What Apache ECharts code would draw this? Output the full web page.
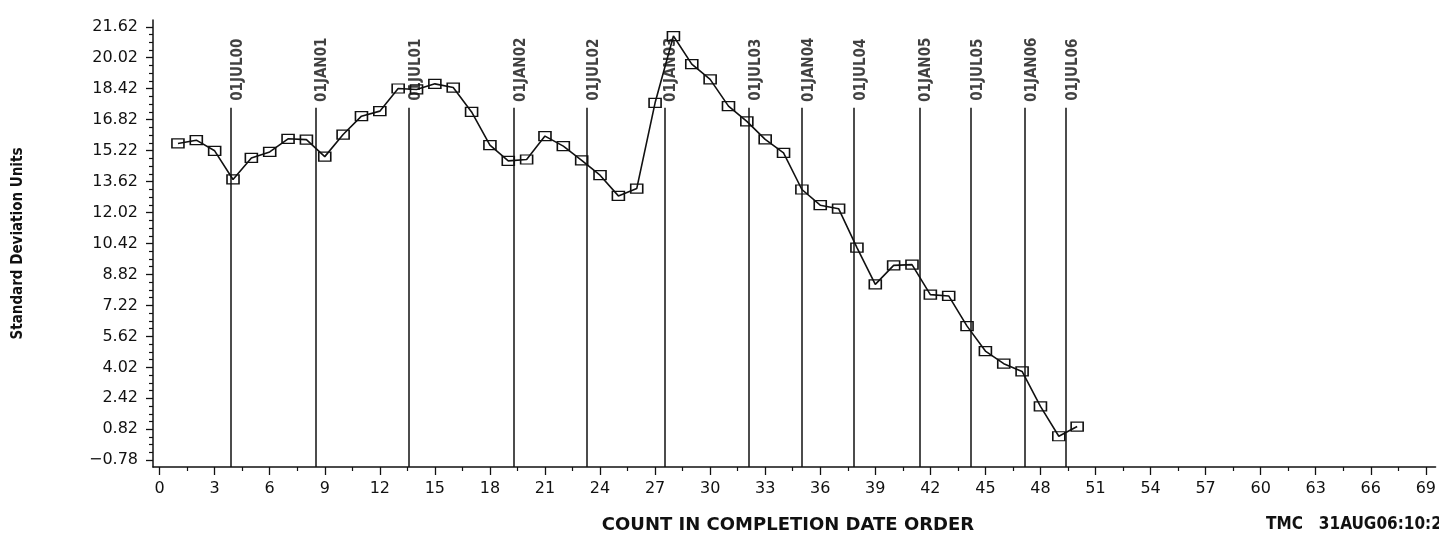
<!DOCTYPE html>
<html>
<head>
<meta charset="utf-8">
<style>
  * { margin: 0; padding: 0; }
  html, body { background: #fff; }
  #container { width: 1439px; height: 541px; }
</style>
</head>
<body>
<div id="container"></div>
<script src="https://cdn.jsdelivr.net/npm/echarts@6/dist/echarts.min.js"></script>
<script>
    // count in completion date order (x) and the standard deviation (y)
    var counts = [1, 2, 3, 4, 5, 6, 7, 8, 9, 10, 11, 12, 13, 14, 15, 16, 17, 18, 19, 20,
                  21, 22, 23, 24, 25, 26, 27, 28, 29, 30, 31, 32, 33, 34, 35, 36, 37, 38, 39, 40,
                  41, 42, 43, 44, 45, 46, 47, 48, 49, 50];
    var stdDev = [15.59, 15.76, 15.21, 13.73, 14.84, 15.15, 15.83, 15.79, 14.91, 16.05,
                  17.00, 17.26, 18.43, 18.38, 18.67, 18.48, 17.22, 15.50, 14.69, 14.76,
                  15.97, 15.45, 14.72, 13.95, 12.88, 13.26, 17.69, 21.14, 19.69, 18.90,
                  17.52, 16.73, 15.80, 15.10, 13.21, 12.40, 12.22, 10.21, 8.31, 9.29,
                  9.33, 7.78, 7.71, 6.15, 4.86, 4.21, 3.81, 2.00, 0.46, 0.96];

    // date reference lines, position on the count axis
    var dateMarks = ['01JUL00', '01JAN01', '01JUL01', '01JAN02', '01JUL02', '01JAN03', '01JUL03',
                     '01JAN04', '01JUL04', '01JAN05', '01JUL05', '01JAN06', '01JUL06'];
    var datePos = [3.9, 8.5, 13.6, 19.3, 23.3, 27.5, 32.1, 35.0, 37.85, 41.4, 44.2, 47.15, 49.4];

    // tick labels
    var yTicks = [-0.78, 0.82, 2.42, 4.02, 5.62, 7.22, 8.82, 10.42, 12.02, 13.62, 15.22, 16.82, 18.42, 20.02, 21.62];
    var xTicks = [0, 3, 6, 9, 12, 15, 18, 21, 24, 27, 30, 33, 36, 39, 42, 45, 48, 51, 54, 57, 60, 63, 66, 69];

    var yMin = -1.13, yMax = 21.97;
    var xMin = -0.36, xMax = 69.53;
    var refLineTop = 17.43;
    var refLabelY = 19.4;

    // minor tick positions in between the labelled ones
    var yMinor = [];
    for (var i = 0; i < yTicks.length - 1; i++) {
        for (var k = 1; k < 4; k++) {
            yMinor.push(+(yTicks[i] + (yTicks[i + 1] - yTicks[i]) * k / 4).toFixed(3));
        }
    }
    var xMinor = [];
    for (var j = 0; j < xTicks.length; j++) {
        if (xTicks[j] + 1.5 < xMax) xMinor.push(xTicks[j] + 1.5);
    }

    var tickFont = { fontFamily: 'DejaVu Sans', fontSize: 16, color: '#111' };
    var narrow = "'Liberation Sans Narrow', 'DejaVu Sans Condensed', 'Liberation Sans', sans-serif";

    var dom = document.getElementById('container');
    var myChart = echarts.init(dom, null, { renderer: 'canvas' });

    var option = {
        animation: false,
        backgroundColor: '#fff',
        title: [
            {
                text: 'COUNT IN COMPLETION DATE ORDER',
                left: 783, top: 511, textAlign: 'center',
                textStyle: { fontFamily: 'DejaVu Sans', fontWeight: 'bold', fontSize: 18, color: '#111' }
            },
            {
                text: 'TMC   31AUG06:10:2',
                left: 1261, top: 511,
                textStyle: { fontFamily: narrow, fontWeight: 'bold', fontSize: 17, color: '#111' }
            }
        ],
        grid: { left: 153, right: 0, top: 20, bottom: 74 },
        xAxis: [
            {
                type: 'value', min: xMin, max: xMax,
                splitLine: { show: false },
                axisLine: { onZero: false, lineStyle: { color: '#111', width: 1.5 } },
                axisTick: { customValues: xTicks, length: 8, lineStyle: { color: '#111', width: 1.3 } },
                axisLabel: Object.assign({ customValues: xTicks, margin: 14 }, tickFont)
            },
            {
                type: 'value', min: xMin, max: xMax, position: 'bottom',
                splitLine: { show: false },
                axisLine: { show: false, onZero: false },
                axisTick: { customValues: xMinor, length: 4, lineStyle: { color: '#111', width: 1.2 } },
                axisLabel: { show: false }
            }
        ],
        yAxis: [
            {
                type: 'value', min: yMin, max: yMax,
                name: 'Standard Deviation Units',
                nameLocation: 'middle', nameGap: 127, nameRotate: 90,
                nameTextStyle: { fontFamily: narrow, fontWeight: 'bold', fontSize: 15, color: '#111' },
                splitLine: { show: false },
                axisLine: { onZero: false, lineStyle: { color: '#111', width: 1.5 } },
                axisTick: { customValues: yTicks, length: 7, lineStyle: { color: '#111', width: 1.3 } },
                axisLabel: Object.assign({
                    customValues: yTicks, margin: 15,
                    formatter: function (v) { return v < 0 ? '\u2212' + Math.abs(v).toFixed(2) : v.toFixed(2); }
                }, tickFont)
            },
            {
                type: 'value', min: yMin, max: yMax, position: 'left',
                splitLine: { show: false },
                axisLine: { show: false, onZero: false },
                axisTick: { customValues: yMinor, length: 4, lineStyle: { color: '#111', width: 1.2 } },
                axisLabel: { show: false }
            }
        ],
        series: [
            {
                type: 'line',
                data: counts.map(function (c, i) { return [c, stdDev[i]]; }),
                symbol: 'rect',
                symbolSize: [12, 9],
                showSymbol: true,
                lineStyle: { color: '#111', width: 1.6 },
                itemStyle: { color: 'rgba(255,255,255,0)', borderColor: '#111', borderWidth: 1.4 },
                z: 3,
                markLine: {
                    silent: true,
                    symbol: ['none', 'none'],
                    label: { show: false },
                    lineStyle: { color: '#111', width: 1.5, type: 'solid' },
                    data: datePos.map(function (p) {
                        return [{ coord: [p, yMin] }, { coord: [p, refLineTop] }];
                    })
                }
            },
            {
                type: 'scatter',
                silent: true,
                symbolSize: 0,
                data: datePos.map(function (p, i) { return { value: [p, refLabelY], name: dateMarks[i] }; }),
                label: {
                    show: true,
                    position: 'inside',
                    rotate: 90,
                    // offset is in the rotated frame: second component pushes the text right
                    offset: [0, 7],
                    formatter: function (d) { return d.name; },
                    fontFamily: narrow,
                    fontWeight: 'bold',
                    fontSize: 15,
                    color: '#111'
                }
            }
        ]
    };

    myChart.setOption(option);
</script>
</body>
</html>
